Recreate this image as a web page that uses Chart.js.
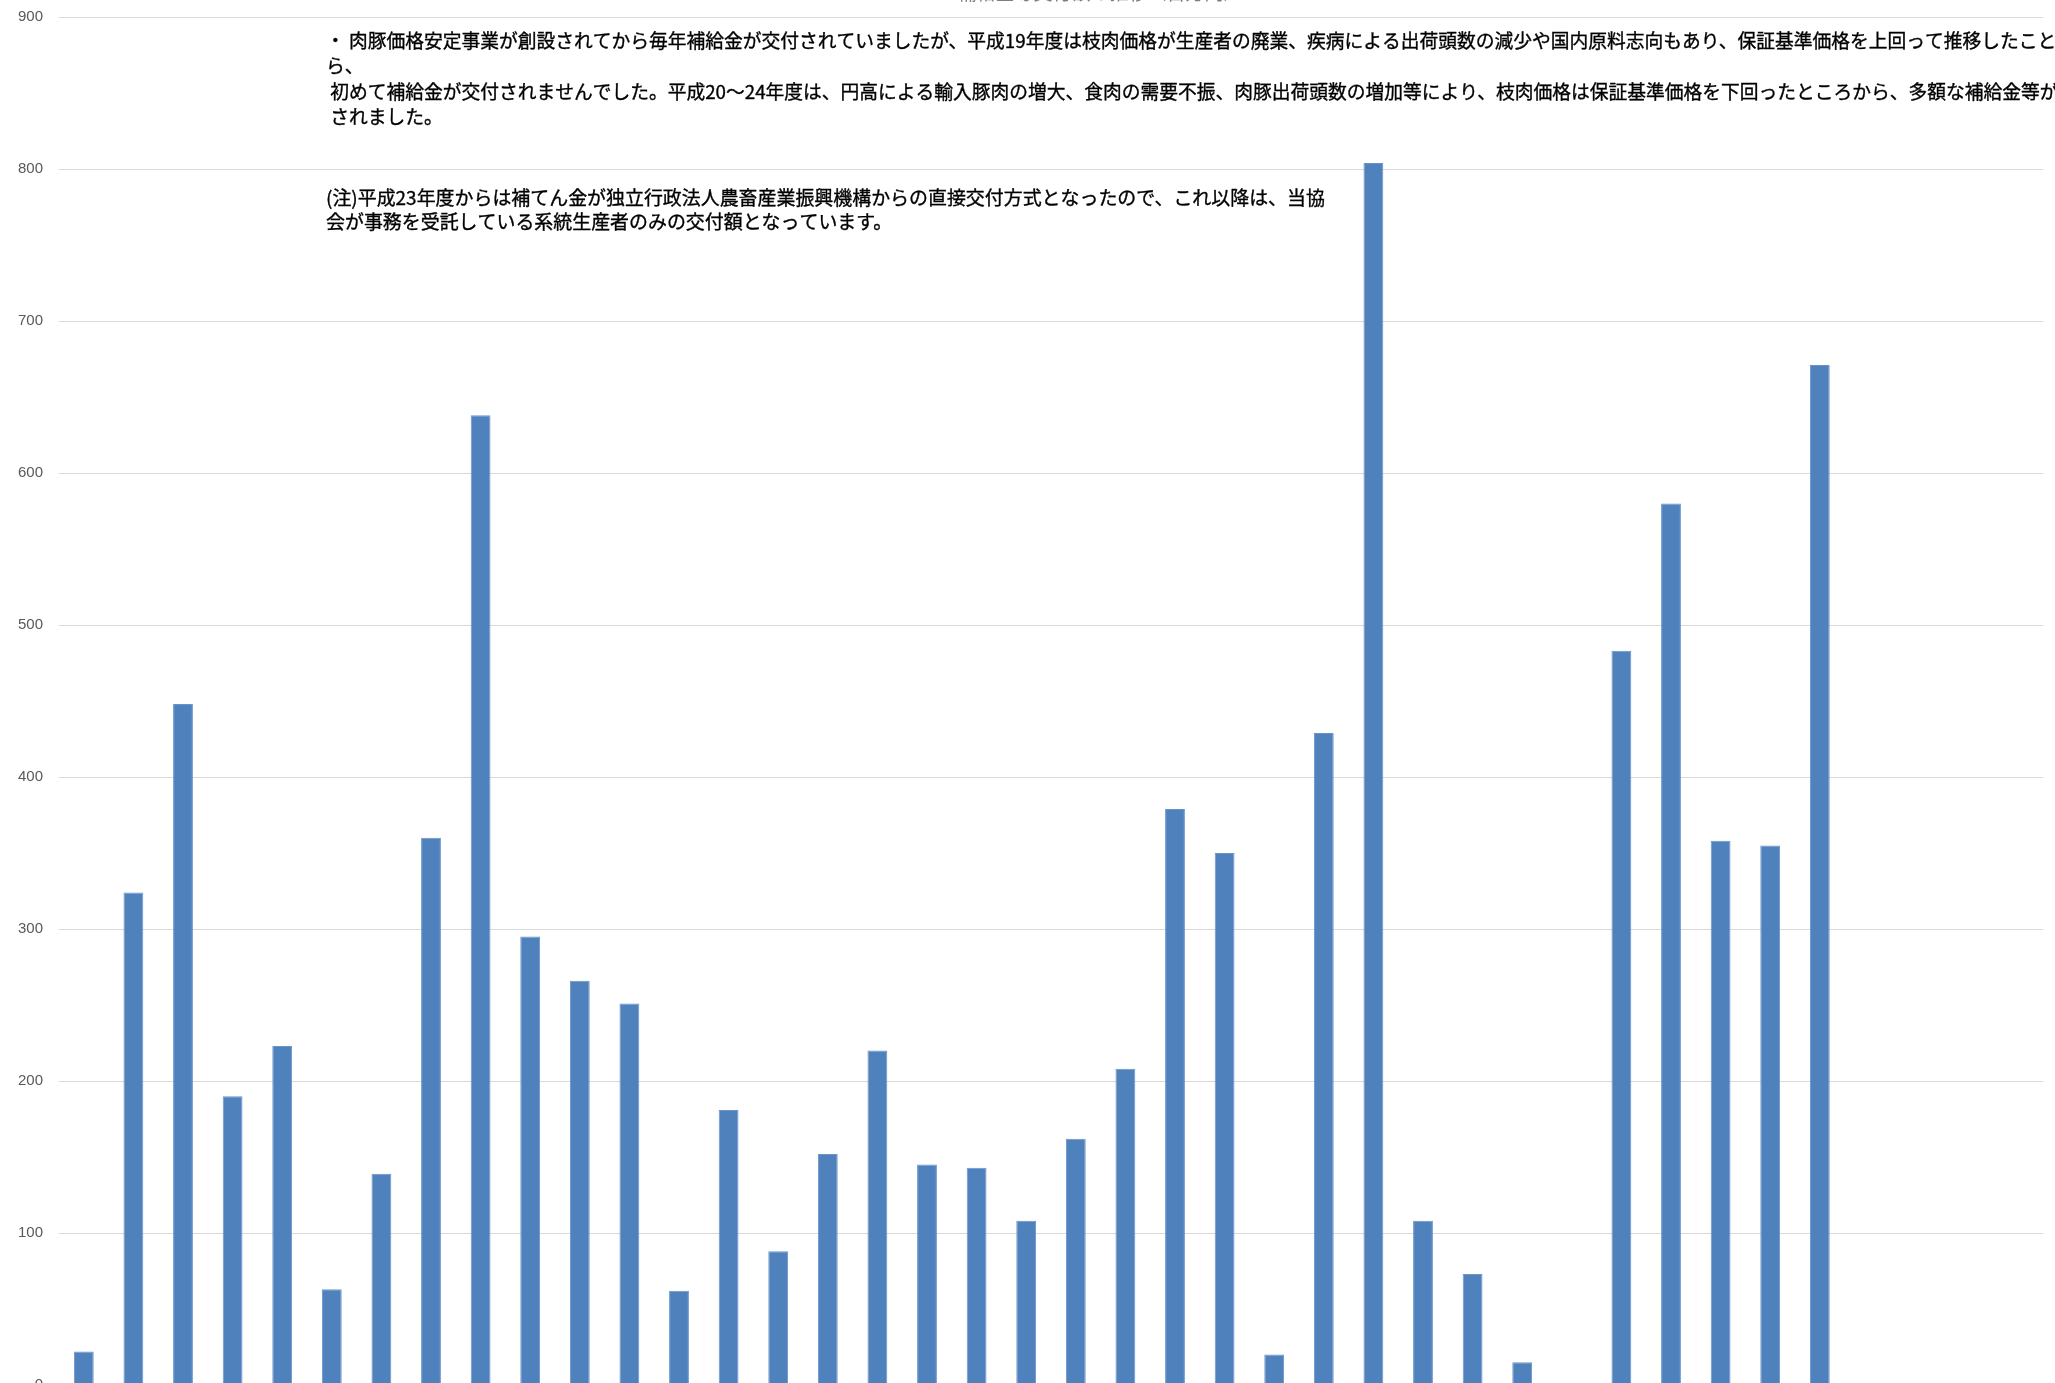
<!DOCTYPE html>
<html lang="ja">
<head>
<meta charset="utf-8">
<script src="https://cdn.jsdelivr.net/npm/chart.js@4.4.1/dist/chart.umd.min.js"></script>
<style>
  html, body { margin: 0; padding: 0; background: #ffffff; overflow: hidden; }
  #frame { position: relative; width: 2055px; height: 1383px; overflow: hidden; background: #ffffff; }
  #c { position: absolute; left: 0; top: 0; }
</style>
</head>
<body>
<div id="frame"><canvas id="c" width="2055" height="1440"></canvas></div>
<script>
// ---- data ----
const categories = [
  "S52","S53","S54","S55","S56","S57","S58","S59","S60","S61","S62","S63",
  "H1","H2","H3","H4","H5","H6","H7","H8","H9","H10","H11","H12","H13","H14",
  "H15","H16","H17","H18","H19","H20","H21","H22","H23","H24",
  "H25","H26","H27","H28"
];
const subsidyValues = [
  22, 324, 448, 190, 223, 63, 139, 360, 638, 295, 266, 251,
  62, 181, 88, 152, 220, 145, 143, 108, 162, 208, 379, 350, 20, 429,
  804, 108, 73, 15, 0, 483, 580, 358, 355, 671,
  null, null, null, null
];
const yTicks = { min: 0, max: 900, step: 100 };

const titleText = "補給金等交付額の推移（百万円）";
const noteLines1 = [
  "・ 肉豚価格安定事業が創設されてから毎年補給金が交付されていましたが、平成19年度は枝肉価格が生産者の廃業、疾病による出荷頭数の減少や国内原料志向もあり、保証基準価格を上回って推移したことか",
  "ら、",
  " 初めて補給金が交付されませんでした。平成20～24年度は、円高による輸入豚肉の増大、食肉の需要不振、肉豚出荷頭数の増加等により、枝肉価格は保証基準価格を下回ったところから、多額な補給金等が交付",
  " されました。"
];
const noteLines2 = [
  "(注)平成23年度からは補てん金が独立行政法人農畜産業振興機構からの直接交付方式となったので、これ以降は、当協",
  "会が事務を受託している系統生産者のみの交付額となっています。"
];

// ---- text overlay plugin ----
const textPlugin = {
  id: 'textOverlay',
  afterDraw(chart) {
    const ctx = chart.ctx;
    ctx.save();
    // partially visible title at very top
    ctx.font = '19px "Noto Sans CJK JP"';
    ctx.fillStyle = '#7f7f7f';
    ctx.textAlign = 'center';
    ctx.textBaseline = 'alphabetic';
    ctx.fillText(titleText, 1100, 0);

    ctx.fillStyle = '#000000';
    ctx.strokeStyle = '#000000';
    ctx.lineWidth = 0.35;
    ctx.textAlign = 'left';
    ctx.textBaseline = 'middle';
    ctx.font = '18.75px "Noto Sans CJK JP"';
    const ys1 = [41, 66, 92, 117];
    noteLines1.forEach((t, i) => { ctx.fillText(t, 326, ys1[i]); ctx.strokeText(t, 326, ys1[i]); });
    ctx.font = '18.95px "Noto Sans CJK JP"';
    const ys2 = [198, 222];
    noteLines2.forEach((t, i) => { ctx.fillText(t, 326, ys2[i]); ctx.strokeText(t, 326, ys2[i]); });
    ctx.restore();
  }
};

new Chart(document.getElementById('c'), {
  type: 'bar',
  data: {
    labels: categories,
    datasets: [{
      label: '補給金交付額',
      data: subsidyValues,
      backgroundColor: '#4f81bd',
      borderColor: '#6a93c8',
      borderWidth: { top: 1, left: 1, right: 1, bottom: 0 },
      barPercentage: 0.4,
      categoryPercentage: 1.0
    }]
  },
  options: {
    responsive: false,
    animation: false,
    devicePixelRatio: 1,
    layout: { padding: { left: 0, right: 12, top: 0, bottom: 0 } },
    plugins: {
      legend: { display: false },
      title: { display: false },
      tooltip: { enabled: false }
    },
    scales: {
      x: {
        grid: { display: false, drawTicks: false },
        border: { display: true, color: '#d9d9d9' },
        ticks: { color: '#595959', font: { family: 'Liberation Sans', size: 15 }, maxRotation: 0, autoSkip: false },
        afterFit(scale) { scale.height = 55; }
      },
      y: {
        min: yTicks.min,
        max: yTicks.max,
        ticks: {
          stepSize: yTicks.step,
          color: '#595959',
          padding: 16,
          font: { family: 'Liberation Sans', size: 15 }
        },
        grid: { color: '#d9d9d9', lineWidth: 1, drawTicks: false },
        border: { display: false },
        afterFit(scale) { scale.width = 59; scale.paddingTop = 17; scale.paddingBottom = 0; }
      }
    }
  },
  plugins: [textPlugin]
});
</script>
</body>
</html>
